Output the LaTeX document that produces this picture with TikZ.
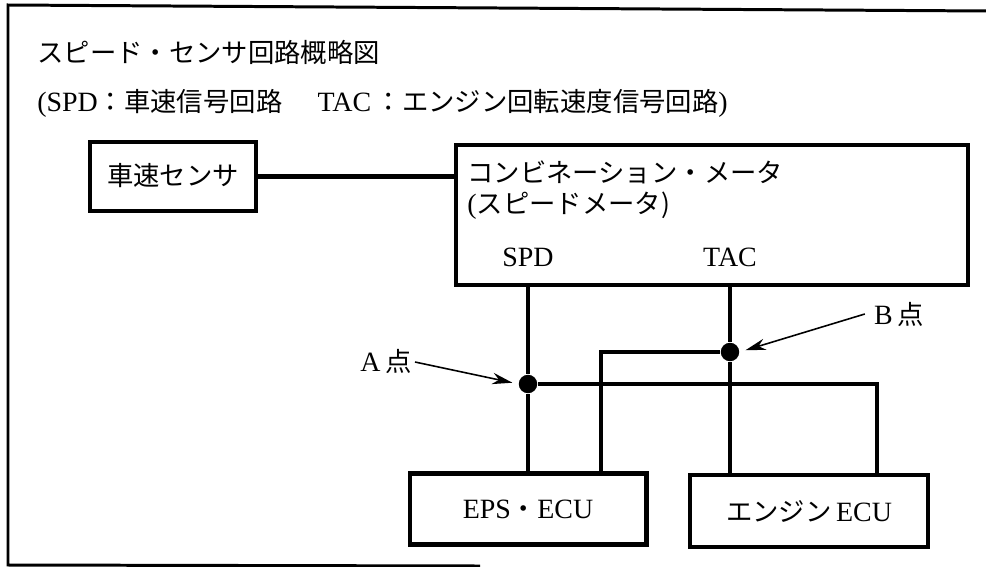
\documentclass[tikz,border=0pt]{standalone}
\usepackage{fontspec}
\setmainfont[Scale=1.06]{Liberation Serif}
\newfontfamily\cjk{Noto Sans CJK JP}
\usetikzlibrary{arrows.meta}
\tikzset{
  box/.style={draw, line width=2.3pt, inner sep=0pt},
  wire/.style={line width=2.2pt},
  pointer/.style={-{Stealth[length=11.5pt,width=6.5pt]}, line width=0.9pt, shorten >=3.5pt},
  junction/.style={circle, fill=black, inner sep=0pt, minimum size=10.5pt},
  label/.style={inner sep=0pt, font=\fontsize{15}{17.6}\selectfont},
}
\begin{document}
\begin{tikzpicture}[x=0.02cm, y=-0.02cm]
    \useasboundingbox (0,0) rectangle (986,567);
    % outer frame, open on the right
    \draw[line width=1.7pt] (986,11) -- (8,5) -- (8,565) -- (480,566);
    % heading
    \node[label, anchor=west] (title) at (37,52) {\cjk スピード・センサ回路概略図};
    \node[label, anchor=west] (legend) at (37,103) {(SPD{\cjk ：車速信号回路}\hspace{20pt}TAC{\,\cjk ：エンジン回転速度信号回路})};
    % boxes
    \node[box, line width=2.7pt, minimum width=3.32cm, minimum height=1.38cm] (sensor) at (173,176.5) {};
    \node[box, minimum width=10.24cm, minimum height=2.8cm] (meter) at (712,215) {};
    \node[box, minimum width=4.74cm, minimum height=1.42cm] (eps) at (528,509) {};
    \node[box, line width=2.6pt, minimum width=4.76cm, minimum height=1.44cm] (engine) at (809,511) {};
    \node[label] (sensortext) at (173,176) {\cjk 車速センサ};
    \node[label, anchor=west, align=left] (metertext) at (467,190) {\cjk コンビネーション・メータ\\{}(\cjk スピードメータ)};
    \node[label] (spd) at (528,257) {SPD};
    \node[label] (tac) at (730,257) {TAC};
    \node[label] (epstext) at (528,509) {EPS{\cjk ・}ECU};
    \node[label] (enginetext) at (809,511) {{\cjk エンジン}\,ECU};
    % junctions and wire ends
    \node[junction] (pointA) at (528,384) {};
    \node[junction] (pointB) at (730,352) {};
    \coordinate (epsB) at (601,473);
    \coordinate (engineA) at (877,475);
    % wires
    \draw[wire, line width=2.7pt] (sensor) -- (meter.west |- sensor);
    \draw[wire] (meter.south -| pointA) -- (pointA) -- (eps.north -| pointA);
    \draw[wire] (meter.south -| pointB) -- (pointB) -- (engine.north -| pointB);
    \draw[wire] (pointA) -| (engineA);
    \draw[wire] (pointB) -| (epsB);
    % labels for the two points
    \node[label] (labelA) at (386,361) {A\,\cjk 点};
    \node[label] (labelB) at (899,314) {B\,\cjk 点};
    \draw[pointer] (labelA.east) ++(3,1) -- (pointA.west);
    \draw[pointer] (labelB.west) ++(-9,0) -- (pointB.east);
\end{tikzpicture}
\end{document}
